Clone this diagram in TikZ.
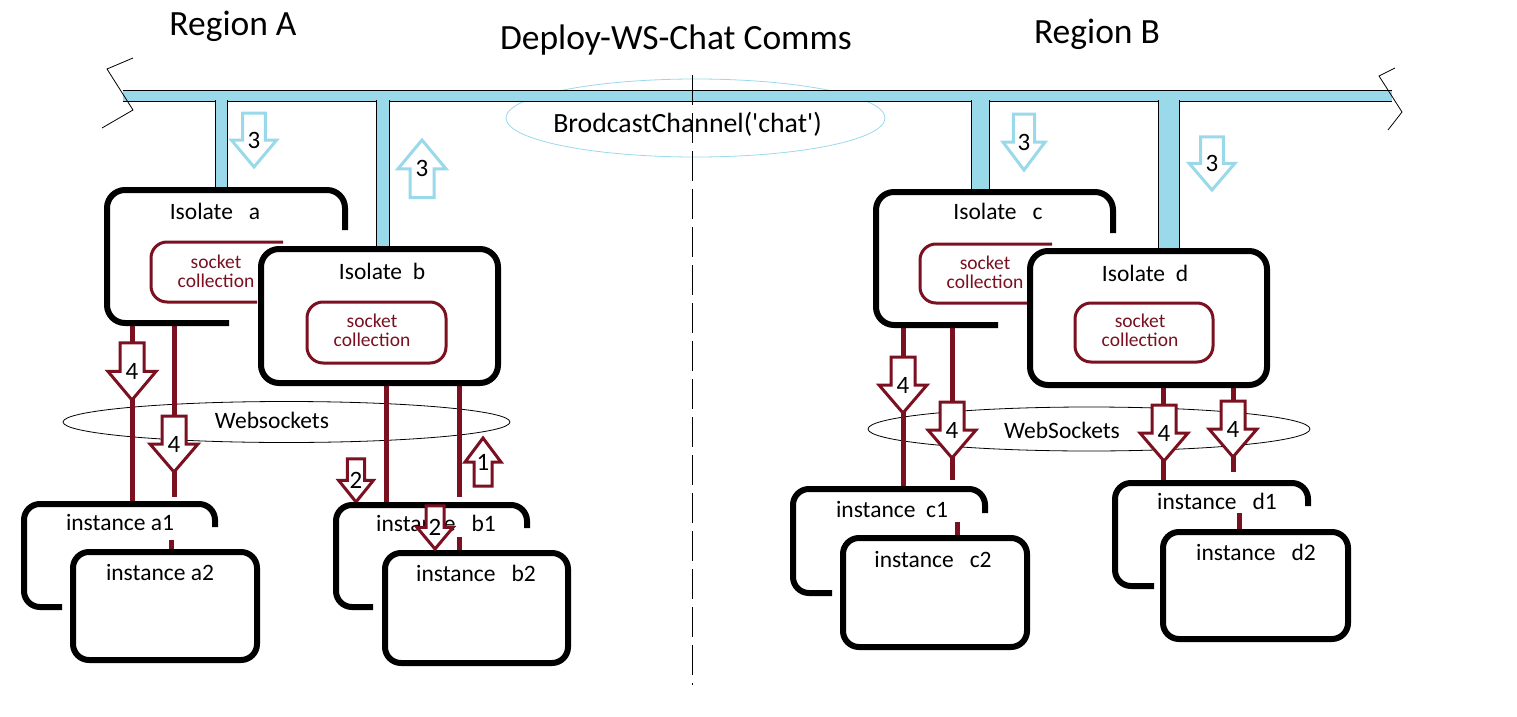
\documentclass[tikz,border=0pt]{standalone}
\usepackage{fontspec}
\setmainfont{Carlito}
\usepackage{tikz}
\usetikzlibrary{shapes.geometric}

\definecolor{wine}{RGB}{122,16,32}
\definecolor{chanblue}{RGB}{153,217,234}

% hollow block arrow: style, name, tip, xscale, yscale, number
\newcommand{\blockarrow}[6]{%
  \begin{scope}[shift={#3}, xscale=#4, yscale=#5]
    \draw[#1] (0,0) -- (-24,-28) -- (-12,-28) -- (-12,-56) -- (12,-56) -- (12,-28) -- (24,-28) -- cycle;
    \node[num] (#2) at (0,-28) {#6};
  \end{scope}}

\begin{document}
\begin{tikzpicture}[
    x=1pt, y=-1pt,
    ghost/.style={inner sep=0pt, outer sep=0pt},
    frame/.style={line width=6pt, rounded corners=16pt},
    sock/.style={draw=wine, line width=3pt, rounded corners=16pt},
    wire/.style={wine, line width=5pt},
    stub/.style={line width=1pt, double=chanblue, double distance=#1},
    redarrow/.style={draw=wine, fill=white, line width=3pt},
    bluearrow/.style={draw=chanblue, fill=white, line width=3pt},
    title/.style={font=\fontsize{35.5}{40}\selectfont, anchor=base, inner sep=0pt},
    lbl/.style={font=\fontsize{23.5}{26}\selectfont, anchor=base, inner sep=0pt},
    socktxt/.style={font=\fontsize{19.5}{19}\selectfont, text=wine, align=center, inner sep=0pt},
    num/.style={font=\fontsize{25}{28}\selectfont, inner sep=0pt}
]
    \useasboundingbox (0,0) rectangle (1517,717);

    % Layout of the boxes (outlines drawn further down)
    \node[ghost, minimum width=238pt, minimum height=133pt] (isoA) at (226,256.5) {};
    \node[ghost, minimum width=237pt, minimum height=134pt] (isoB) at (379.5,316) {};
    \node[ghost, minimum width=237pt, minimum height=133pt] (isoC) at (994.5,258.5) {};
    \node[ghost, minimum width=237pt, minimum height=134pt] (isoD) at (1148.5,318) {};
    \node[ghost, minimum width=132pt, minimum height=60pt] (sockA) at (217,272) {};
    \node[ghost, minimum width=139pt, minimum height=61pt] (sockB) at (376.5,332.5) {};
    \node[ghost, minimum width=132pt, minimum height=59pt] (sockC) at (986,273.5) {};
    \node[ghost, minimum width=138pt, minimum height=59pt] (sockD) at (1144,332.5) {};
    \node[ghost, minimum width=191pt, minimum height=103pt] (instA1) at (119.5,555.5) {};
    \node[ghost, minimum width=184pt, minimum height=108pt] (instA2) at (165,606) {};
    \node[ghost, minimum width=191pt, minimum height=102pt] (instB1) at (431.5,556) {};
    \node[ghost, minimum width=183pt, minimum height=110pt] (instB2) at (476.5,608) {};
    \node[ghost, minimum width=192pt, minimum height=104pt] (instC1) at (889,541) {};
    \node[ghost, minimum width=184pt, minimum height=109pt] (instC2) at (935,592.5) {};
    \node[ghost, minimum width=193pt, minimum height=103pt] (instD1) at (1211.5,534.5) {};
    \node[ghost, minimum width=185pt, minimum height=107pt] (instD2) at (1255.5,585.5) {};

    % BroadcastChannel ring and bus
    \node[ellipse, draw=chanblue, line width=0.8pt, ghost, minimum width=379pt, minimum height=78pt] (chan) at (695.5,118) {};
    \node[ghost, fill=chanblue, minimum width=1269pt, minimum height=11pt] (bus) at (757.5,95.5) {};
    \draw[line width=1pt] (bus.north west) -- (bus.north east) (bus.south west) -- (bus.south east);
    \draw[line width=0.8pt] (133,58) -- (107,69) -- (133,110) -- (102,128);
    \draw[line width=0.8pt] (1395,68) -- (1379,76) -- (1402,112) -- (1388,130);

    % Stubs down to the isolates
    \coordinate (sA) at (221.5,100);
    \coordinate (sB) at (383,100);
    \coordinate (sC) at (980.5,100);
    \coordinate (sD) at (1169,100);
    \draw[stub=11pt] (sA) -- (sA |- isoA.north);
    \draw[stub=12pt] (sB) -- (sB |- isoB.north);
    \draw[stub=17pt] (sC) -- (sC |- isoC.north);
    \draw[stub=20pt] (sD) -- (sD |- isoD.north);

    % Step 3 arrows
    \blockarrow{bluearrow}{n3a}{(254,167)}{0.94}{0.96}{3}
    \blockarrow{bluearrow}{n3b}{(422,140)}{1}{-1.03}{3}
    \blockarrow{bluearrow}{n3c}{(1024,170)}{0.88}{1}{3}
    \blockarrow{bluearrow}{n3d}{(1212,190)}{0.95}{0.95}{3}

    % Websocket rings
    \node[ellipse, draw, line width=0.8pt, ghost, minimum width=447pt, minimum height=41pt] (wsA) at (286.5,422) {};
    \node[ellipse, draw, line width=0.8pt, ghost, minimum width=442pt, minimum height=44pt] (wsB) at (1089,429) {};

    % Websocket wires
    \coordinate (wA1) at (132,0);
    \coordinate (wA2) at (174,0);
    \coordinate (wB1) at (386,0);
    \coordinate (wB2) at (459,0);
    \coordinate (wC1) at (903,0);
    \coordinate (wC2) at (952,0);
    \coordinate (wD1) at (1163.5,0);
    \coordinate (wD2) at (1233,0);
    \draw[wire] (wA1 |- isoA.south) -- (wA1 |- instA1.north);
    \draw[wire, shorten >=7pt] (wA2 |- isoA.south) -- (wA2 |- instA1.north);
    \draw[wire] (wB1 |- isoB.south) -- (wB1 |- instB1.north);
    \draw[wire, shorten >=8pt] (wB2 |- isoB.south) -- (wB2 |- instB1.north);
    \draw[wire] (wC1 |- isoC.south) -- (wC1 |- instC1.north);
    \draw[wire, shorten >=9pt] (wC2 |- isoC.south) -- (wC2 |- instC1.north);
    \draw[wire] (wD1 |- isoD.south) -- (wD1 |- instD1.north);
    \draw[wire, shorten >=11pt] (wD2 |- isoD.south) -- (wD2 |- instD1.north);

    % Steps 1, 2 and 4
    \blockarrow{redarrow}{n4a}{(132,400)}{1}{1.02}{4}
    \blockarrow{redarrow}{n4b}{(174,472)}{1}{1}{4}
    \blockarrow{redarrow}{n2a}{(356,502)}{0.72}{0.77}{2}
    \blockarrow{redarrow}{n1}{(483,438)}{0.75}{-0.86}{1}
    \blockarrow{redarrow}{n4c}{(903,413)}{1}{1}{4}
    \blockarrow{redarrow}{n4d}{(952,458)}{1}{1}{4}
    \blockarrow{redarrow}{n4e}{(1164,461)}{1}{1}{4}
    \blockarrow{redarrow}{n4f}{(1233,457)}{1}{1}{4}

    % Back boxes (open outlines)
    \draw[frame, rounded corners=18pt] ([xshift=122pt]isoA.south west) -| (isoA.north west) -| ([yshift=-40pt]isoA.north east);
    \draw[frame, rounded corners=18pt] ([xshift=122pt]isoC.south west) -| (isoC.north west) -| ([yshift=-41pt]isoC.north east);
    \draw[sock] (sockA.north east) -| (sockA.south west) -- ([xshift=106pt]sockA.south west);
    \draw[sock] (sockC.north east) -| (sockC.south west) -- ([xshift=107pt]sockC.south west);
    \draw[frame] ([xshift=38pt]instA1.south west) -| (instA1.north west) -| ([yshift=-23pt]instA1.north east);
    \draw[frame] ([xshift=37pt]instB1.south west) -| (instB1.north west) -| ([yshift=-23pt]instB1.north east);
    \draw[frame] ([xshift=39pt]instC1.south west) -| (instC1.north west) -| ([yshift=-24pt]instC1.north east);
    \draw[frame] ([xshift=39pt]instD1.south west) -| (instD1.north west) -| ([yshift=-23pt]instD1.north east);
    \node[lbl] (isoA-t) at (215,219) {Isolate~~~a};
    \node[lbl] (isoC-t) at (998,219) {Isolate~~~c};
    \node[socktxt] (sockA-t) at (216,271) {socket\\collection};
    \node[socktxt] (sockC-t) at (985,272.5) {socket\\collection};
    \node[lbl] (instA1-t) at (120,530) {instance a1};
    \node[lbl] (instB1-t) at (436,531) {instance~~~b1};
    \node[lbl] (instC1-t) at (892,517) {instance~~c1};
    \node[lbl] (instD1-t) at (1217,509) {instance~~~d1};

    % Front boxes
    \draw[frame, rounded corners=18pt, fill=white] (isoB.south west) rectangle (isoB.north east);
    \draw[frame, rounded corners=18pt, fill=white] (isoD.south west) rectangle (isoD.north east);
    \draw[sock] (sockB.south west) rectangle (sockB.north east);
    \draw[sock] (sockD.south west) rectangle (sockD.north east);
    \draw[frame, fill=white] (instA2.south west) rectangle (instA2.north east);
    \draw[frame, fill=white] (instB2.south west) rectangle (instB2.north east);
    \draw[frame, fill=white] (instC2.south west) rectangle (instC2.north east);
    \draw[frame, fill=white] (instD2.south west) rectangle (instD2.north east);
    \node[lbl] (isoB-t) at (382,279) {Isolate~~b};
    \node[lbl] (isoD-t) at (1145,281) {Isolate~~d};
    \node[socktxt] (sockB-t) at (372,330.5) {socket\\collection};
    \node[socktxt] (sockD-t) at (1140,330.5) {socket\\collection};
    \node[lbl] (instA2-t) at (160,580) {instance a2};
    \node[lbl] (instB2-t) at (476,581) {instance~~~b2};
    \node[lbl] (instC2-t) at (933,567) {instance~~~c2};
    \node[lbl] (instD2-t) at (1256,560) {instance~~~d2};

    % Step 2 between the b instances
    \blockarrow{redarrow}{n2b}{(435,549)}{0.75}{0.77}{2}

    % Links between paired instances
    \coordinate (lA) at (171,540);
    \coordinate (lB) at (459,537);
    \coordinate (lC) at (957,522);
    \coordinate (lD) at (1239,513);
    \draw[wire, shorten >=3pt] (lA) -- (lA |- instA2.north);
    \draw[wire, shorten >=3pt] (lB) -- (lB |- instB2.north);
    \draw[wire, shorten >=3pt] (lC) -- (lC |- instC2.north);
    \draw[wire, shorten >=3pt] (lD) -- (lD |- instD2.north);

    % Labels
    \node[lbl] (wsA-t) at (272,428) {Websockets};
    \node[lbl] (wsB-t) at (1062,438) {WebSockets};
    \node[font=\fontsize{27.8}{30}\selectfont, anchor=base, inner sep=0pt] (chan-t) at (687.5,132) {BrodcastChannel(\textquotesingle chat\textquotesingle)};
    \node[title] (regA) at (233,36) {Region A};
    \node[title] (deploy) at (676,50) {Deploy-WS-Chat Comms};
    \node[title] (regB) at (1097,44) {Region B};

    % Region divider
    \coordinate (divTop) at (692,75);
    \coordinate (divBot) at (692,685);
    \draw[line width=0.8pt, dash pattern=on 30pt off 8pt] (divTop) -- (divBot);
\end{tikzpicture}
\end{document}
